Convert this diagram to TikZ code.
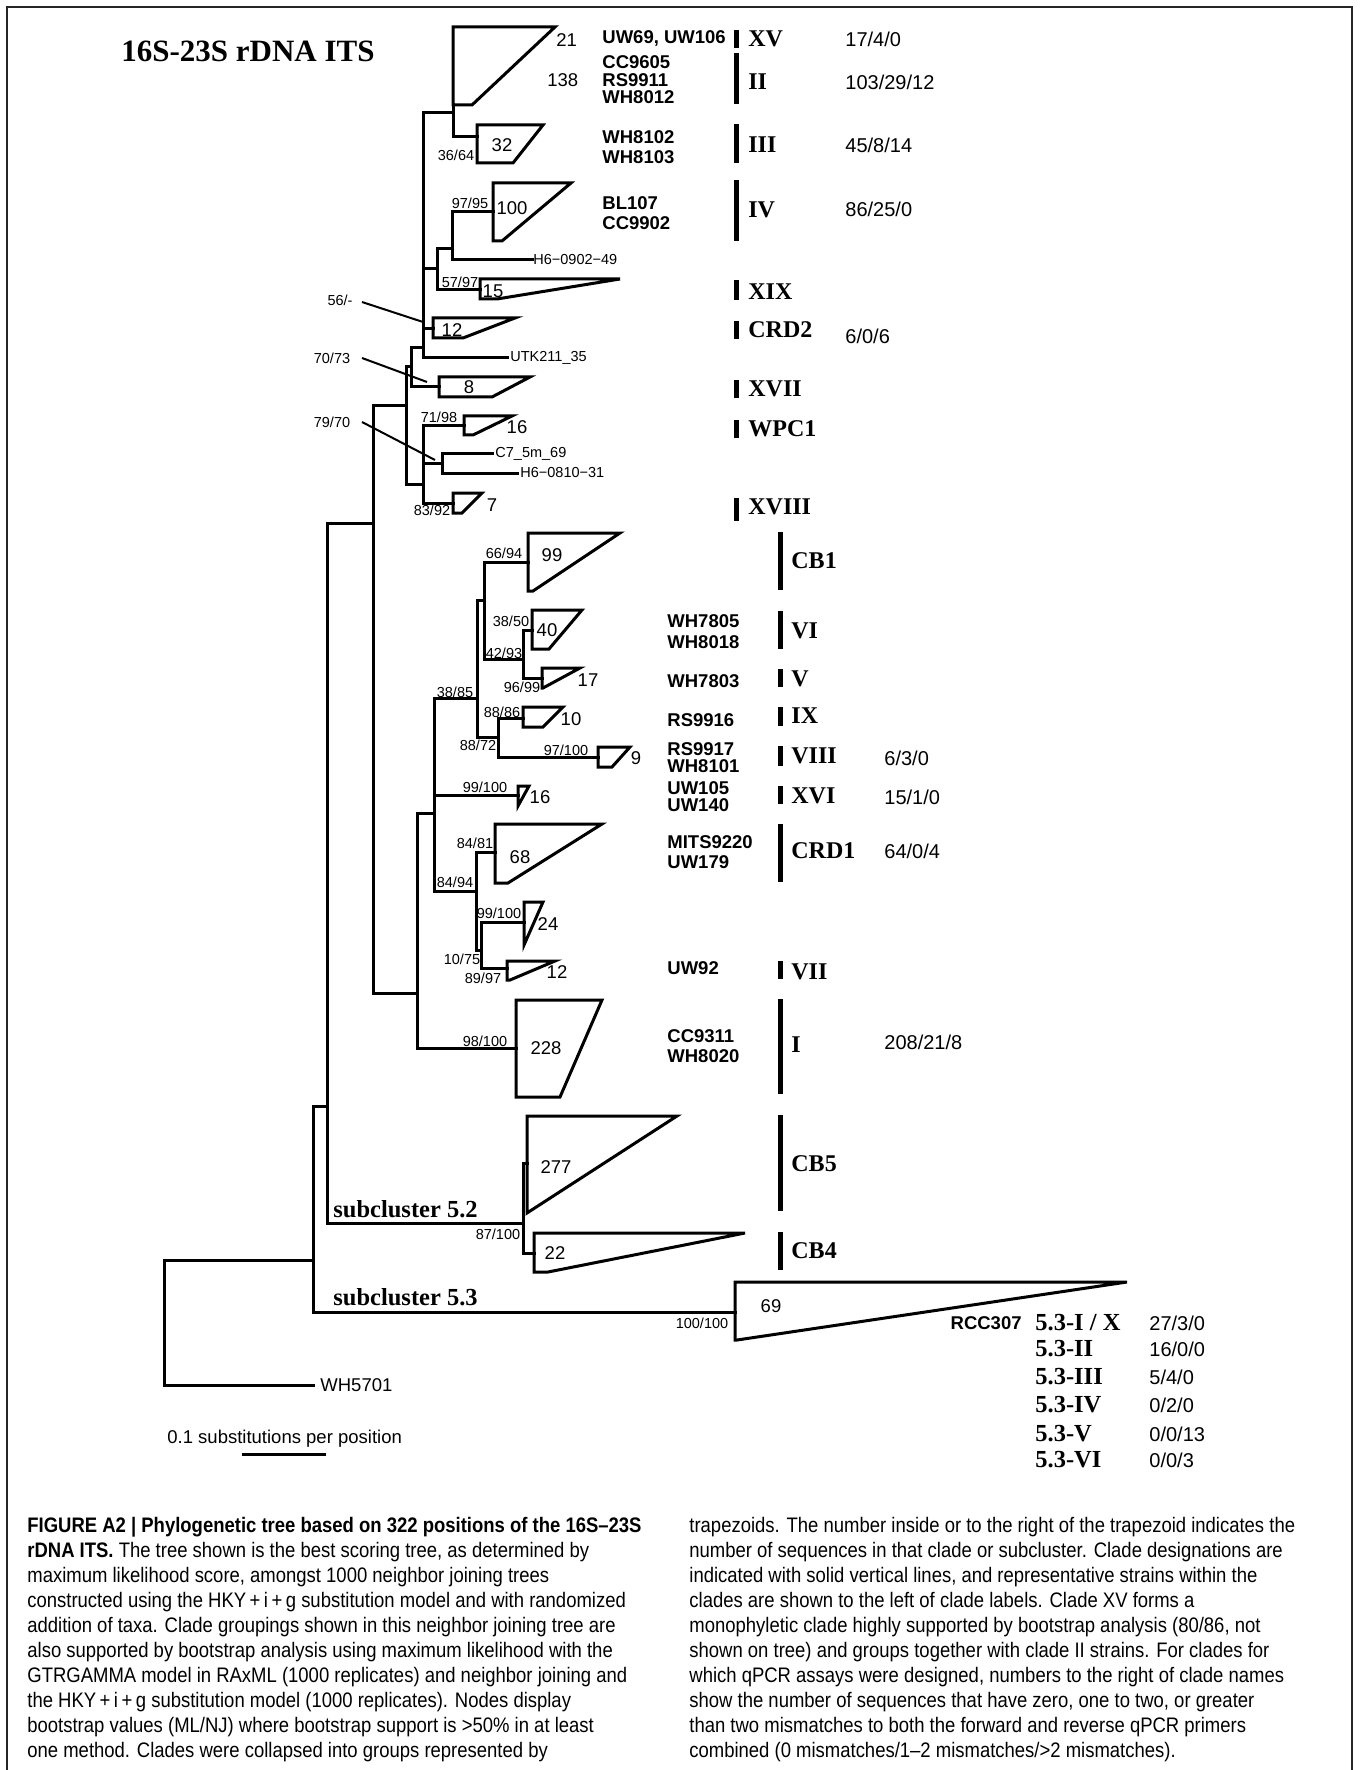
\documentclass[tikz,border=0pt]{standalone}
\usepackage{fontspec}
\setmainfont{Liberation Serif}
\setsansfont{Liberation Sans}
\newfontfamily\capfont[FakeStretch=0.88]{Liberation Sans}

\begin{document}
\begin{tikzpicture}[x=0.5pt, y=-0.5pt, font=\sffamily,
    every node/.style={inner sep=0pt},
    branch/.style={line width=1.5pt, line cap=rect},
    clade/.style={line width=1.5pt, line join=miter},
    cbar/.style={line width=2.5pt},
    ptr/.style={line width=1pt},
    ttl/.style={anchor=west, font=\rmfamily\bfseries\fontsize{15.5}{17}\selectfont},
    boot/.style={font=\sffamily\fontsize{7.25}{8}\selectfont},
    cnt/.style={font=\sffamily\fontsize{9.25}{10}\selectfont},
    leaflbl/.style={anchor=west, font=\sffamily\fontsize{7.25}{8}\selectfont},
    strain/.style={anchor=west, font=\sffamily\bfseries\fontsize{9.25}{10}\selectfont},
    cname/.style={anchor=west, font=\rmfamily\bfseries\fontsize{12}{13}\selectfont},
    subcl/.style={anchor=base west, font=\rmfamily\bfseries\fontsize{12.25}{13}\selectfont},
    qpcr/.style={anchor=west, font=\sffamily\fontsize{10}{11}\selectfont},
    capline/.style={anchor=base west, font=\capfont\fontsize{10.5}{12}\selectfont}]
  \useasboundingbox (0,0) rectangle (1359,1770);
  \draw[line width=0.8pt, black!85] (7,1770) -- (7,7) -- (1352,7) -- (1352,1770);

  \node[ttl] (title) at (121,51) {16S-23S rDNA ITS};

  \coordinate (root) at (164,1260);
  \coordinate (lWH) at (313,1385);
  \coordinate (n1) at (313,1260);
  \coordinate (n2) at (327,1106);
  \coordinate (t53) at (735,1312);
  \coordinate (n52) at (523,1223);
  \coordinate (tCB5) at (527,1163);
  \coordinate (tCB4) at (534,1253);
  \coordinate (n3) at (373,523);
  \coordinate (n4) at (406,406);
  \coordinate (n5) at (411,367);
  \coordinate (n6) at (423,348);
  \coordinate (tXVII) at (439,387);
  \coordinate (n7) at (453,113);
  \coordinate (tXV) at (453,105);
  \coordinate (tIII) at (477,137);
  \coordinate (n8) at (437,269);
  \coordinate (n8a) at (452,249);
  \coordinate (tIV) at (493,212);
  \coordinate (lH6a) at (532,260);
  \coordinate (tXIX) at (480,290);
  \coordinate (tCRD2) at (433,329);
  \coordinate (lUTK) at (507,358);
  \coordinate (n9) at (423,484);
  \coordinate (tWPC1) at (464,426);
  \coordinate (n9a) at (442,464);
  \coordinate (lC7) at (492,454);
  \coordinate (lH6b) at (517,473);
  \coordinate (tXVIII) at (453,503);
  \coordinate (n10) at (417,993);
  \coordinate (tI) at (516,1048);
  \coordinate (n11) at (434,813);
  \coordinate (tXVI) at (518,795);
  \coordinate (n12) at (477,698);
  \coordinate (n13) at (484,600);
  \coordinate (tCB1) at (528,562);
  \coordinate (n14) at (523,659);
  \coordinate (tVI) at (532,630);
  \coordinate (tV) at (542,678);
  \coordinate (n15) at (498,737);
  \coordinate (tIX) at (523,718);
  \coordinate (tVIII) at (598,757);
  \coordinate (n16) at (476,891);
  \coordinate (tCRD1) at (495,852);
  \coordinate (n17) at (481,950);
  \coordinate (t24) at (524,922);
  \coordinate (tVII) at (507,968);

  \foreach \a/\b in {root/n1, root/lWH, n1/n2, n1/t53, n2/n3, n2/n52,
      n52/tCB5, n52/tCB4, n3/n4, n3/n10, n4/n5, n4/n9, n5/n6, n5/tXVII,
      n6/n7, n6/n8, n6/tCRD2, n6/lUTK, n7/tXV, n7/tIII, n8/n8a, n8/tXIX,
      n8a/tIV, n8a/lH6a, n9/tWPC1, n9/n9a, n9/tXVIII, n9a/lC7, n9a/lH6b,
      n10/n11, n10/tI, n11/n12, n11/tXVI, n11/n16, n12/n13, n12/n15,
      n13/tCB1, n13/n14, n14/tVI, n14/tV, n15/tIX, n15/tVIII,
      n16/tCRD1, n16/n17, n17/t24, n17/tVII}
    \draw[branch] (\a) |- (\b);

  \foreach \xl/\yt/\yb/\xt/\xb in {453/27/105/555/472, 477/125/163/543/513,
      493/183/241/571/502, 480/279/299/620/497, 433/318/338/515/463,
      439/377/397/530/492, 464/416/435/512/473, 453/493/513/482/462,
      528/533/591/620/533, 532/610/649/582/549, 542/668/688/580/543,
      523/707/727/563/543, 598/747/767/630/612, 518/786/806/529/518,
      495/824/883/602/508, 524/902/945/543/524, 507/961/980/555/510,
      516/1000/1097/602/560, 527/1116/1213/677/527, 534/1233/1272/745/548,
      735/1282/1340/1127/737}
    \draw[clade] (\xl,\yt) -- (\xt,\yt) -- (\xb,\yb) -- (\xl,\yb) -- cycle;

  \node[cnt, anchor=west] (c21) at (556,40) {21};
  \node[cnt, anchor=west] (c138) at (547,80) {138};
  \node[cnt] (c32) at (502,145) {32};
  \node[cnt] (c100) at (512,208) {100};
  \node[cnt] (c15) at (493,291) {15};
  \node[cnt] (c12a) at (452,330) {12};
  \node[cnt] (c8) at (469,387) {8};
  \node[cnt] (c16a) at (517,427) {16};
  \node[cnt] (c7) at (492,505) {7};
  \node[cnt] (c99) at (552,555) {99};
  \node[cnt] (c40) at (547,630) {40};
  \node[cnt] (c17) at (588,680) {17};
  \node[cnt] (c10) at (571,719) {10};
  \node[cnt] (c9) at (636,758) {9};
  \node[cnt] (c16b) at (540,797) {16};
  \node[cnt] (c68) at (520,857) {68};
  \node[cnt] (c24) at (548,924) {24};
  \node[cnt] (c12b) at (557,972) {12};
  \node[cnt] (c228) at (546,1048) {228};
  \node[cnt] (c277) at (556,1167) {277};
  \node[cnt] (c22) at (555,1253) {22};
  \node[cnt] (c69) at (771,1306) {69};

  \node[boot] (b3664) at (456,155) {36/64};
  \node[boot] (b9795) at (470,203) {97/95};
  \node[boot] (b5797) at (460,282) {57/97};
  \node[boot] (b56) at (340,300) {56/-};
  \node[boot] (b7073) at (332,358) {70/73};
  \node[boot] (b7970) at (332,422) {79/70};
  \node[boot] (b7198) at (439,417) {71/98};
  \node[boot] (b8392) at (432,510) {83/92};
  \node[boot] (b6694) at (504,553) {66/94};
  \node[boot] (b3850) at (511,621) {38/50};
  \node[boot] (b4293) at (504,653) {42/93};
  \node[boot] (b9699) at (522,687) {96/99};
  \node[boot] (b3885) at (455,692) {38/85};
  \node[boot] (b8886) at (502,712) {88/86};
  \node[boot] (b8872) at (478,745) {88/72};
  \node[boot] (b97100) at (566,750) {97/100};
  \node[boot] (b99100a) at (485,787) {99/100};
  \node[boot] (b8481) at (475,843) {84/81};
  \node[boot] (b8494) at (455,882) {84/94};
  \node[boot] (b99100b) at (499,913) {99/100};
  \node[boot] (b1075) at (462,959) {10/75};
  \node[boot] (b8997) at (483,978) {89/97};
  \node[boot] (b98100) at (485,1041) {98/100};
  \node[boot] (b87100) at (498,1234) {87/100};
  \node[boot] (b100100) at (702,1323) {100/100};

  \coordinate (p56a) at (362,302);
  \coordinate (p56b) at (423,322);
  \coordinate (p7073a) at (362,358);
  \coordinate (p7073b) at (427,382);
  \coordinate (p7970a) at (362,422);
  \coordinate (p7970b) at (435,460);
  \draw[ptr] (p56a) -- (p56b);
  \draw[ptr] (p7073a) -- (p7073b);
  \draw[ptr] (p7970a) -- (p7970b);

  \node[leaflbl] (nH6a) at (533,260) {H6−0902−49};
  \node[leaflbl] (nUTK) at (510,358) {UTK211\_35};
  \node[leaflbl] (nC7) at (495,454) {C7\_5m\_69};
  \node[leaflbl] (nH6b) at (520,473) {H6−0810−31};
  \node[leaflbl, font=\sffamily\fontsize{9.25}{10}\selectfont] (nWH) at (320,1385) {WH5701};

  \node[strain] (sUW69) at (602,38) {UW69, UW106};
  \node[strain] (sCC9605) at (602,62) {CC9605};
  \node[strain] (sRS9911) at (602,80) {RS9911};
  \node[strain] (sWH8012) at (602,97) {WH8012};
  \node[strain] (sWH8102) at (602,137) {WH8102};
  \node[strain] (sWH8103) at (602,157) {WH8103};
  \node[strain] (sBL107) at (602,203) {BL107};
  \node[strain] (sCC9902) at (602,223) {CC9902};
  \node[strain] (sWH7805) at (667,621) {WH7805};
  \node[strain] (sWH8018) at (667,642) {WH8018};
  \node[strain] (sWH7803) at (667,681) {WH7803};
  \node[strain] (sRS9916) at (667,720) {RS9916};
  \node[strain] (sRS9917) at (667,749) {RS9917};
  \node[strain] (sWH8101) at (667,766) {WH8101};
  \node[strain] (sUW105) at (667,788) {UW105};
  \node[strain] (sUW140) at (667,805) {UW140};
  \node[strain] (sMITS) at (667,842) {MITS9220};
  \node[strain] (sUW179) at (667,862) {UW179};
  \node[strain] (sUW92) at (667,968) {UW92};
  \node[strain] (sCC9311) at (667,1036) {CC9311};
  \node[strain] (sWH8020) at (667,1056) {WH8020};
  \node[strain, anchor=east] (sRCC307) at (1022,1323) {RCC307};

  \foreach \x/\ya/\yb in {736/30/48, 736/53/104, 736/124/163, 736/180/241,
      736/280/300, 736/321/339, 736/380/398, 736/420/438, 736/498/521,
      780/532/590, 780/611/649, 780/669/687, 780/707/726, 780/746/766,
      780/786/804, 780/824/882, 780/961/979, 780/999/1094, 780/1115/1211,
      780/1232/1270}
    \draw[cbar] (\x,\ya) -- (\x,\yb);

  \node[cname] (kXV) at (748,39) {XV};
  \node[cname] (kII) at (748,82) {II};
  \node[cname] (kIII) at (748,145) {III};
  \node[cname] (kIV) at (748,210) {IV};
  \node[cname] (kXIX) at (748,292) {XIX};
  \node[cname] (kCRD2) at (748,330) {CRD2};
  \node[cname] (kXVII) at (748,389) {XVII};
  \node[cname] (kWPC1) at (748,429) {WPC1};
  \node[cname] (kXVIII) at (748,507) {XVIII};
  \node[cname] (kCB1) at (791,561) {CB1};
  \node[cname] (kVI) at (791,631) {VI};
  \node[cname] (kV) at (791,679) {V};
  \node[cname] (kIX) at (791,716) {IX};
  \node[cname] (kVIII) at (791,756) {VIII};
  \node[cname] (kXVI) at (791,796) {XVI};
  \node[cname] (kCRD1) at (791,851) {CRD1};
  \node[cname] (kVII) at (791,972) {VII};
  \node[cname] (kI) at (791,1045) {I};
  \node[cname] (kCB5) at (791,1164) {CB5};
  \node[cname] (kCB4) at (791,1251) {CB4};

  \node[qpcr] (qXV) at (845,39) {17/4/0};
  \node[qpcr] (qII) at (845,82) {103/29/12};
  \node[qpcr] (qIII) at (845,145) {45/8/14};
  \node[qpcr] (qIV) at (845,209) {86/25/0};
  \node[qpcr] (qCRD2) at (845,336) {6/0/6};
  \node[qpcr] (qVIII) at (884,758) {6/3/0};
  \node[qpcr] (qXVI) at (884,797) {15/1/0};
  \node[qpcr] (qCRD1) at (884,851) {64/0/4};
  \node[qpcr] (qI) at (884,1042) {208/21/8};

  \node[subcl] (sc52) at (333,1217) {subcluster 5.2};
  \node[subcl] (sc53) at (333,1305) {subcluster 5.3};

  \node[cname, font=\rmfamily\bfseries\fontsize{12.25}{13}\selectfont] (r1) at (1035,1323) {5.3-I / X};
  \node[cname, font=\rmfamily\bfseries\fontsize{12.25}{13}\selectfont] (r2) at (1035,1349) {5.3-II};
  \node[cname, font=\rmfamily\bfseries\fontsize{12.25}{13}\selectfont] (r3) at (1035,1377) {5.3-III};
  \node[cname, font=\rmfamily\bfseries\fontsize{12.25}{13}\selectfont] (r4) at (1035,1405) {5.3-IV};
  \node[cname, font=\rmfamily\bfseries\fontsize{12.25}{13}\selectfont] (r5) at (1035,1434) {5.3-V};
  \node[cname, font=\rmfamily\bfseries\fontsize{12.25}{13}\selectfont] (r6) at (1035,1460) {5.3-VI};
  \node[qpcr] (m1) at (1149,1323) {27/3/0};
  \node[qpcr] (m2) at (1149,1349) {16/0/0};
  \node[qpcr] (m3) at (1149,1377) {5/4/0};
  \node[qpcr] (m4) at (1149,1405) {0/2/0};
  \node[qpcr] (m5) at (1149,1434) {0/0/13};
  \node[qpcr] (m6) at (1149,1460) {0/0/3};

  \node[anchor=west, font=\sffamily\fontsize{9.25}{10}\selectfont] (scale) at (167,1439) {0.1 substitutions per position};
  \coordinate (sb1) at (242,1454);
  \coordinate (sb2) at (326,1454);
  \draw[line width=1.5pt] (sb1) -- (sb2);

  \foreach \t [count=\i from 0] in {
      {{\bfseries FIGURE A2 | Phylogenetic tree based on 322 positions of the 16S–23S}},
      {{\bfseries rDNA ITS.} The tree shown is the best scoring tree, as determined by},
      {maximum likelihood score, amongst 1000 neighbor joining trees},
      {constructed using the HKY\,+\,i\,+\,g substitution model and with randomized},
      {addition of taxa. Clade groupings shown in this neighbor joining tree are},
      {also supported by bootstrap analysis using maximum likelihood with the},
      {GTRGAMMA model in RAxML (1000 replicates) and neighbor joining and},
      {the HKY\,+\,i\,+\,g substitution model (1000 replicates). Nodes display},
      {bootstrap values (ML/NJ) where bootstrap support is >50\% in at least},
      {one method. Clades were collapsed into groups represented by}}
    \node[capline] (capL\i) at (27,1532+25*\i) {\t};

  \foreach \t [count=\i from 0] in {
      {trapezoids. The number inside or to the right of the trapezoid indicates the},
      {number of sequences in that clade or subcluster. Clade designations are},
      {indicated with solid vertical lines, and representative strains within the},
      {clades are shown to the left of clade labels. Clade XV forms a},
      {monophyletic clade highly supported by bootstrap analysis (80/86, not},
      {shown on tree) and groups together with clade II strains. For clades for},
      {which qPCR assays were designed, numbers to the right of clade names},
      {show the number of sequences that have zero, one to two, or greater},
      {than two mismatches to both the forward and reverse qPCR primers},
      {combined (0 mismatches/1–2 mismatches/>2 mismatches).}}
    \node[capline] (capR\i) at (689,1532+25*\i) {\t};
\end{tikzpicture}
\end{document}
